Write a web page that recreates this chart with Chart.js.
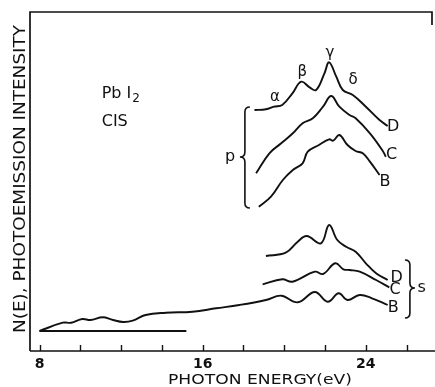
<!DOCTYPE html>
<html>
<head>
<meta charset="utf-8">
<script src="https://cdn.jsdelivr.net/npm/chart.js@4.4.1/dist/chart.umd.min.js"></script>
<style>
  html, body { margin: 0; padding: 0; background: #fff; }
  #wrap { width: 435px; height: 387px; position: relative; }
</style>
</head>
<body>
<div id="wrap"><canvas id="spectra"></canvas></div>
<script>
// PbI2 CIS spectra (arbitrary units)

const xTicks = [8, 10, 12, 14, 16, 18, 20, 22, 24, 26];
const xTickLabels = ["8", "", "", "", "16", "", "", "", "24", ""];

// p-band curves (photon energy in eV, intensity)
const pD_E = [18.54, 19.1, 19.5, 19.9, 20.4, 20.83, 21.24, 21.56, 21.97, 22.2, 22.55, 22.87, 23.36, 24.0, 24.67, 25.07];
const pD_I = [24.1, 24.17, 24.43, 24.6, 25.77, 26.93, 26.37, 26.1, 27.77, 28.87, 27.43, 26.1, 25.6, 24.43, 23.1, 22.5];

const pC_E = [18.62, 19.27, 19.85, 20.42, 20.9, 21.4, 21.9, 22.3, 22.7, 23.2, 23.5, 24.2, 24.8, 24.98];
const pC_I = [17.77, 19.77, 20.77, 21.77, 22.77, 23.27, 24.43, 25.5, 24.43, 23.6, 23.27, 21.77, 20.1, 19.43];

const pB_E = [18.75, 19.35, 19.93, 20.42, 20.9, 21.15, 21.7, 22.2, 22.4, 22.7, 23.1, 23.5, 23.85, 24.2, 24.67];
const pB_I = [14.43, 15.43, 17.1, 18.1, 18.77, 19.93, 20.6, 21.17, 21.03, 21.6, 20.6, 20.0, 19.77, 18.93, 17.6];

// s-band curves
const sD_E = [19.1, 20.07, 20.66, 21.1, 21.8, 22.2, 22.6, 23.03, 23.5, 24.0, 24.5, 25.07];
const sD_I = [9.5, 9.83, 10.93, 11.5, 10.77, 12.6, 11.1, 10.43, 9.93, 8.77, 7.77, 7.1];

const sC_E = [18.94, 19.9, 20.4, 21.5, 21.9, 22.5, 22.9, 23.2, 23.7, 24.5, 25.15];
const sC_I = [6.67, 7.17, 6.93, 7.93, 7.7, 8.77, 8.17, 8.1, 7.93, 7.1, 6.37];

const sB_E = [8.0, 9.14, 9.55, 10.1, 10.5, 11.1, 11.6, 12.1, 12.57, 13.2, 14.2, 15.5, 16.66, 17.8, 19.1, 19.85, 20.66, 21.5, 22.13, 22.67, 23.1, 23.7, 24.3, 25.07];
const sB_I = [2.0, 2.83, 2.83, 3.2, 3.1, 3.37, 3.1, 2.9, 3.03, 3.6, 3.83, 3.93, 4.27, 4.6, 5.1, 5.53, 4.87, 5.9, 4.93, 5.77, 5.1, 5.6, 5.27, 4.6];

// zero line under the spectra
const base_E = [8.0, 15.2];
const base_I = [2.0, 2.0];

const FONT = "'DejaVu Sans', sans-serif";
const INK = "#111";

function pts(es, is) {
  return es.map((e, i) => ({ x: e, y: is[i] }));
}

function curve(label, es, is, tension) {
  return {
    label,
    data: pts(es, is),
    borderColor: INK,
    borderWidth: 1.9,
    fill: false,
    tension: tension,
    pointRadius: 0,
  };
}

function brace(ctx, x0, yTop, yMid, yBot, dir) {
  const w = 5;
  ctx.beginPath();
  ctx.moveTo(x0 - dir * w, yTop);
  ctx.quadraticCurveTo(x0, yTop, x0, yTop + w);
  ctx.lineTo(x0, yMid - w);
  ctx.quadraticCurveTo(x0, yMid, x0 + dir * w, yMid);
  ctx.quadraticCurveTo(x0, yMid, x0, yMid + w);
  ctx.lineTo(x0, yBot - w);
  ctx.quadraticCurveTo(x0, yBot, x0 - dir * w, yBot);
  ctx.stroke();
}

// draw text squeezed/stretched to a target width
function fitText(ctx, text, cx, cy, width, rot) {
  ctx.save();
  ctx.translate(cx, cy);
  ctx.rotate(rot || 0);
  const w = ctx.measureText(text).width;
  ctx.scale(width / w, 1);
  ctx.textAlign = "center";
  ctx.textBaseline = "middle";
  ctx.fillText(text, 0, 0);
  ctx.restore();
}

const figurePlugin = {
  id: "figure",
  afterDraw(chart) {
    const { ctx, chartArea: a } = chart;
    const xs = chart.scales.x, ys = chart.scales.y;
    const px = v => xs.getPixelForValue(v);
    const py = v => ys.getPixelForValue(v);

    ctx.save();
    ctx.strokeStyle = INK;
    ctx.fillStyle = INK;
    ctx.lineWidth = 1.7;

    // frame: left, top, bottom axis, short stub on the right
    ctx.beginPath();
    ctx.moveTo(a.left, a.bottom);
    ctx.lineTo(a.left, a.top);
    ctx.lineTo(a.right - 3, a.top);
    ctx.lineTo(a.right - 3, a.top + 13);
    ctx.moveTo(a.left, a.bottom);
    ctx.lineTo(a.right, a.bottom);
    ctx.stroke();

    // tick marks point into the plot
    ctx.lineWidth = 1.4;
    ctx.beginPath();
    xTicks.forEach(t => {
      const x = Math.round(px(t)) + 0.5;
      ctx.moveTo(x, a.bottom);
      ctx.lineTo(x, a.bottom - 6);
    });
    ctx.stroke();

    ctx.textAlign = "center";
    ctx.textBaseline = "middle";
    ctx.font = "bold 14px " + FONT;
    xTicks.forEach((t, i) => {
      if (xTickLabels[i]) ctx.fillText(xTickLabels[i], px(t), a.bottom + 13);
    });

    // axis titles
    ctx.font = "14px " + FONT;
    fitText(ctx, "PHOTON ENERGY(eV)", 260, a.bottom + 29, 184, 0);
    ctx.font = "16px " + FONT;
    fitText(ctx, "N(E), PHOTOEMISSION INTENSITY", 21, 179, 308, -Math.PI / 2);

    // sample label
    ctx.textAlign = "left";
    ctx.font = "16px " + FONT;
    ctx.fillText("Pb I", px(11.05), py(25.7));
    const wPb = ctx.measureText("Pb I").width;
    ctx.font = "12px " + FONT;
    ctx.fillText("2", px(11.05) + wPb + 1, py(25.7) + 5);
    ctx.font = "16px " + FONT;
    ctx.fillText("CIS", px(11.05), py(22.9));

    // peak labels
    ctx.textAlign = "center";
    ctx.font = "15px " + FONT;
    ctx.fillText("α", px(19.54), py(25.43));
    ctx.fillText("β", px(20.88), py(27.93));
    ctx.fillText("γ", px(22.24), py(29.8));
    ctx.fillText("δ", px(23.38), py(27.1));

    // curve letters
    ctx.font = "16px " + FONT;
    ctx.fillText("D", px(25.34), py(22.43));
    ctx.fillText("C", px(25.26), py(19.6));
    ctx.fillText("B", px(24.94), py(16.93));
    ctx.fillText("D", px(25.51), py(7.27));
    ctx.fillText("C", px(25.43), py(6.1));
    ctx.fillText("B", px(25.34), py(4.27));
    ctx.fillText("p", px(17.34), py(19.43));
    ctx.fillText("s", px(26.74), py(6.27));

    // braces grouping the p and s curves
    ctx.lineWidth = 1.6;
    brace(ctx, px(18.07), py(24.4), py(19.4), py(14.3), -1);
    brace(ctx, px(26.16), py(9.1), py(6.3), py(3.3), 1);

    ctx.restore();
  }
};

new Chart(document.getElementById("spectra"), {
  type: "line",
  data: {
    datasets: [
      curve("p D", pD_E, pD_I, 0.4),
      curve("p C", pC_E, pC_I, 0.4),
      curve("p B", pB_E, pB_I, 0.4),
      curve("s D", sD_E, sD_I, 0.4),
      curve("s C", sC_E, sC_I, 0.4),
      curve("s B", sB_E, sB_I, 0.4),
      curve("base", base_E, base_I, 0),
    ]
  },
  options: {
    responsive: true,
    maintainAspectRatio: false,
    animation: false,
    events: [],
    layout: { padding: { left: 30, top: 12, right: 0, bottom: 36 } },
    plugins: { legend: { display: false }, tooltip: { enabled: false } },
    scales: {
      x: { type: "linear", min: 7.534, max: 27.39, display: false },
      y: { type: "linear", min: 0, max: 33.9, display: false }
    }
  },
  plugins: [figurePlugin]
});
</script>
</body>
</html>
